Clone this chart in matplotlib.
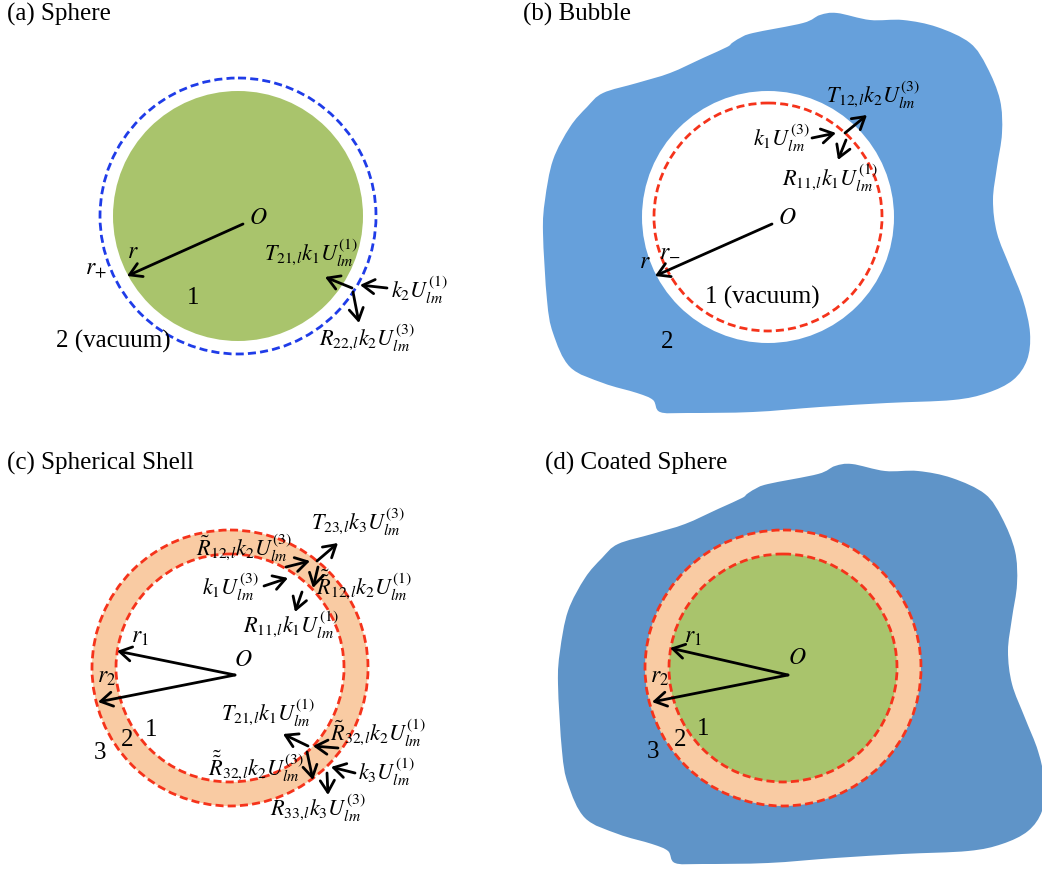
import numpy as np
import matplotlib
matplotlib.use("Agg")
import matplotlib.pyplot as plt
from matplotlib.patches import Circle, PathPatch, FancyArrowPatch
from matplotlib.path import Path

plt.rcParams['font.family'] = ['Liberation Serif', 'DejaVu Serif']
plt.rcParams['mathtext.fontset'] = 'stix'

# colours
GREEN = '#A9C46C'
BLUE_B = '#66A0DB'
BLUE_D = '#5F94C8'
ORANGE = '#F9CBA3'
RED = '#F5331B'
BLUE_DASH = '#1F3CE8'

# blob outline, relative to the circle centre (pixels, y down)
blob_dx = [-36, -28, -15, 35, 52, 69, 102, 135, 169, 202, 219, 232, 234, 229, 225, 229,
           242, 255, 262, 259, 245, 219, 185, 119, 52, -15, -81, -108, -115, -131, -165,
           -198, -215, -221, -225, -223, -215, -198, -181, -165, -131, -98, -65, -41]
blob_dy = [-174, -179, -184, -194, -202, -204, -197, -197, -190, -174, -150, -117, -84, -50,
           -17, 16, 50, 83, 116, 143, 163, 176, 183, 186, 190, 195, 196, 195, 183, 176, 166,
           150, 116, 83, 16, -17, -57, -90, -110, -124, -134, -144, -159, -170]

# circle centres and radii
center_a = (238, 216)
r_a_inner, r_a_outer = 125, 138
center_b = (768, 217)
r_b_white, r_b_dash = 126, 114
center_c = (230, 668)
r_c_inner, r_c_outer = 114, 138
center_d = (783, 668)
r_d_inner, r_d_outer = 114, 138

titles = [("(a) Sphere", 7, 14), ("(b) Bubble", 523, 14),
          ("(c) Spherical Shell", 7, 463), ("(d) Coated Sphere", 545, 463)]

# plain labels: numbers and region names
region_labels = [
    ("1", 193, 298), ("2 (vacuum)", 113, 341),
    ("1 (vacuum)", 762, 297), ("2", 667, 342),
    ("1", 151, 730), ("2", 127, 740), ("3", 100, 753),
    ("1", 703, 729), ("2", 680, 740), ("3", 653, 752),
]

# centre and radius symbols
symbol_labels = [
    (r"$O$", 258, 219), (r"$r$", 133, 252), (r"$r_{+}$", 96, 269),
    (r"$O$", 787, 219), (r"$r_{-}$", 670, 250), (r"$r$", 645, 263),
    (r"$O$", 243, 661), (r"$r_1$", 140, 638), (r"$r_2$", 107, 678),
    (r"$O$", 797, 659), (r"$r_1$", 693, 638), (r"$r_2$", 660, 678),
]

# wave terms
wave_labels = [
    (r"$T_{21,\!l}k_1U_{lm}^{(1)}$", 311, 253), (r"$k_2U_{lm}^{(1)}$", 419, 290),
    (r"$R_{22,\!l}k_2U_{lm}^{(3)}$", 367, 338),
    (r"$k_1U_{lm}^{(3)}$", 781, 138), (r"$T_{12,\!l}k_2U_{lm}^{(3)}$", 873, 95),
    (r"$R_{11,\!l}k_1U_{lm}^{(1)}$", 830, 178),
    (r"$T_{23,\!l}k_3U_{lm}^{(3)}$", 358, 522), (r"$\tilde{R}_{12,\!l}k_2U_{lm}^{(3)}$", 244, 548),
    (r"$k_1U_{lm}^{(3)}$", 230, 587), (r"$\tilde{\tilde{R}}_{12,\!l}k_2U_{lm}^{(1)}$", 364, 585),
    (r"$R_{11,\!l}k_1U_{lm}^{(1)}$", 291, 625),
    (r"$T_{21,\!l}k_1U_{lm}^{(1)}$", 268, 713), (r"$\tilde{R}_{32,\!l}k_2U_{lm}^{(1)}$", 378, 733),
    (r"$\tilde{\tilde{R}}_{32,\!l}k_2U_{lm}^{(3)}$", 256, 766), (r"$k_3U_{lm}^{(1)}$", 386, 772),
    (r"$R_{33,\!l}k_3U_{lm}^{(3)}$", 318, 808),
]

arrows = [
    # panel a
    ((243, 224), (127, 276)), ((387, 288), (360, 285)), ((352, 288), (325, 277)),
    ((353, 292), (359, 323)),
    # panel b
    ((772, 224), (655, 276)), ((812, 138), (836, 133)), ((845, 133), (867, 115)),
    ((846, 140), (838, 160)),
    # panel c
    ((235, 675), (117, 651)), ((235, 675), (98, 702)), ((317, 561), (338, 543)),
    ((286, 567), (310, 561)), ((264, 586), (288, 578)), ((318, 567), (313, 588)),
    ((302, 592), (295, 612)), ((308, 746), (283, 734)), ((338, 748), (313, 746)),
    ((307, 752), (313, 780)), ((355, 773), (331, 767)), ((327, 773), (328, 795)),
    # panel d
    ((788, 675), (670, 648)), ((788, 675), (652, 702)),
]


def blob_path(cx, cy):
    """Closed smooth outline through the blob points (Catmull-Rom as Bezier)."""
    pts = np.column_stack([np.array(blob_dx) + cx, np.array(blob_dy) + cy]).astype(float)
    n = len(pts)
    verts = [pts[0]]
    codes = [Path.MOVETO]
    for i in range(n):
        p0, p1, p2, p3 = pts[i - 1], pts[i], pts[(i + 1) % n], pts[(i + 2) % n]
        verts += [p1 + (p2 - p0) / 6, p2 - (p3 - p1) / 6, p2]
        codes += [Path.CURVE4] * 3
    verts.append(pts[0])
    codes.append(Path.CLOSEPOLY)
    return Path(verts, codes)


def dashed(ax, c, r, color):
    ax.add_patch(Circle(c, r, fill=False, ec=color, lw=2, linestyle=(0, (2.9, 1.5)), zorder=4))


fig = plt.figure(figsize=(10.42, 8.73), dpi=100)
ax = fig.add_axes([0, 0, 1, 1])
ax.set_xlim(0, 1042)
ax.set_ylim(873, 0)
ax.axis('off')

# (a) sphere
ax.add_patch(Circle(center_a, r_a_inner, fc=GREEN, ec='none', zorder=1))
dashed(ax, center_a, r_a_outer, BLUE_DASH)

# (b) bubble
ax.add_patch(PathPatch(blob_path(*center_b), fc=BLUE_B, ec='none', zorder=1))
ax.add_patch(Circle(center_b, r_b_white, fc='white', ec='none', zorder=2))
dashed(ax, center_b, r_b_dash, RED)

# (c) spherical shell
ax.add_patch(Circle(center_c, r_c_outer, fc=ORANGE, ec='none', zorder=1))
ax.add_patch(Circle(center_c, r_c_inner, fc='white', ec='none', zorder=2))
dashed(ax, center_c, r_c_outer, RED)
dashed(ax, center_c, r_c_inner, RED)

# (d) coated sphere
ax.add_patch(PathPatch(blob_path(*center_d), fc=BLUE_D, ec='none', zorder=1))
ax.add_patch(Circle(center_d, r_d_outer, fc=ORANGE, ec='none', zorder=2))
ax.add_patch(Circle(center_d, r_d_inner, fc=GREEN, ec='none', zorder=3))
dashed(ax, center_d, r_d_outer, RED)
dashed(ax, center_d, r_d_inner, RED)

for tail, head in arrows:
    ax.add_patch(FancyArrowPatch(tail, head, arrowstyle='->,head_length=0.5,head_width=0.3',
                                 mutation_scale=17, lw=2, color='black',
                                 shrinkA=0, shrinkB=0, zorder=6))

for txt, x, y in titles:
    ax.text(x, y, txt, fontsize=18, ha='left', va='center', zorder=7)

for txt, x, y in region_labels:
    ax.text(x, y, txt, fontsize=18, ha='center', va='center', zorder=7)

for txt, x, y in symbol_labels:
    ax.text(x, y, txt, fontsize=17, ha='center', va='center', zorder=7)

for txt, x, y in wave_labels:
    ax.text(x, y, txt, fontsize=16, ha='center', va='center', zorder=7)

fig.savefig('out.png', dpi=100)
